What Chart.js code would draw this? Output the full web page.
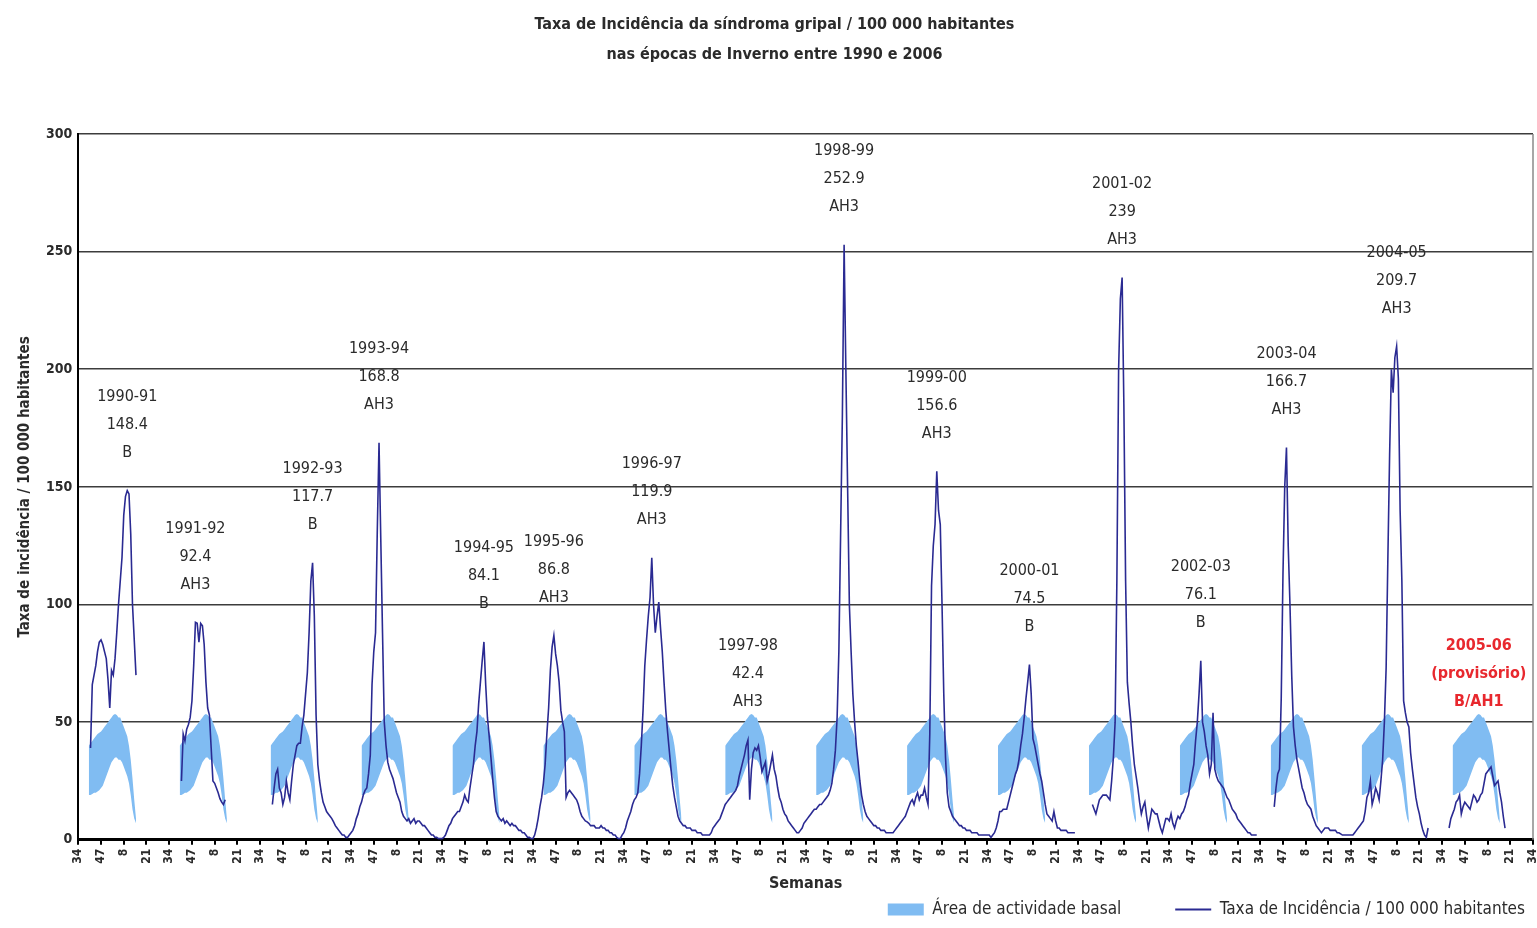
<!DOCTYPE html>
<html lang="pt">
<head>
<meta charset="UTF-8">
<title>Taxa de incidência da síndroma gripal 1990-2006</title>
<script src="https://cdn.jsdelivr.net/npm/chart.js"></script>
<style>
  body { margin: 0; background: #fff; }
</style>
</head>
<body>
<canvas id="grafico" width="1537" height="928"></canvas>
<script>
const FONTE = "'Liberation Sans Narrow', 'DejaVu Sans Condensed', 'Liberation Sans', Arial, sans-serif";
const corLinha = '#2a2a92';
const corBasal = '#80bcf2';

// épocas, valor do pico e vírus dominante
const epocas = ['1990-91', '1991-92', '1992-93', '1993-94', '1994-95', '1995-96', '1996-97', '1997-98',
                '1998-99', '1999-00', '2000-01', '2001-02', '2002-03', '2003-04', '2004-05', '2005-06'];
const picos = ['148.4', '92.4', '117.7', '168.8', '84.1', '86.8', '119.9', '42.4',
               '252.9', '156.6', '74.5', '239', '76.1', '166.7', '209.7', '(provisório)'];
const virus = ['B', 'AH3', 'B', 'AH3', 'B', 'AH3', 'AH3', 'AH3',
               'AH3', 'AH3', 'B', 'AH3', 'B', 'AH3', 'AH3', 'B/AH1'];
const epocaProvisoria = '2005-06';

// taxa semanal, da semana 34 à semana 33 do ano seguinte (52 semanas por época)
const semanaInicial = 34;
const s1990 = [null,null,null,null,null,null,null,
  39,66,70,74,80,84,85,83,80,77, 68,56,72,70,77,88,100,110,120,138, 146,148.4,147,130,100,85,70,
  null,null,null,null,null,null,null,null,null,null,null,null,null,null,null,null,null,null];
const s1991 = [null,null,null,null,null,null,null,
  25,45,42,47,49,52,59,74,92.4,92, 84,92,91,83,67,56,53,39,25,24, 22,20,17.5,16,15,17,
  null,null,null,null,null,null,null,null,null,null,null,null,null,null,null,null,null,null,null];
const s1992 = [null,null,null,null,null,null,null,
  15,22,28,30,22,20,15,18,25,20, 17,25,32,36,40,41,41,48,53,62, 71,88,110,117.7,95,53,32,25,20,16,
  14,12,11,10,9,7.6,6,5,4,3, 2,2,1,1,2];
const s1993 = [3,4,6,9,11,14,16,19,21,22, 28,36,66,80,88,131,168.8,128,88,50, 40,33,30,28,26,23,20,18,16,12,
  10,9,8,9,7,8,9,7,8,8, 7,6,6,5,4,3,2,2,1,1, 0.5,0.5];
const s1994 = [0.5,1,2,4,6,7,9,10,11,12, 12,14,16,19,17,16,22,27,32,40, 46,58,67,76,84.1,66,52,44,35,26,
  18,12,10,9,8,9,7,8,7,6, 7,6,6,5,4,4,3,3,2,1, 1,0.5];
const s1995 = [0.5,2,5,9,14,18,24,32,45,56, 72,82,86.8,79,74,67,55,50,46,18, 20,21,20,19,18,17,15,12,10,9,
  8,7.6,7,6,6,6,5,5,5,6, 5,5,4,4,3,3,2,2,1,0.5, 0.5,2];
const s1996 = [3,5,8,10,12,15,17,18,20,28, 40,55,74,85,95,103,119.9,100,88,95, 101,90,80,67,55,46,38,30,23,18,
  14,10,8,7,6,6,5,5,5,4, 4,4,3,3,3,2,2,2,2,2, 3,5];
const s1997 = [6,7,8,9,11,13,15,16,17,18, 19,20,21,23,27,30,33,36,40,42.4, 17,30,37,39,38,40,35,29,31,33,
  25,28,32,36,30,27,22,18,16,13, 11,10,8,7,6,5,4,3,3,4, 5,7];
const s1998 = [8,9,10,11,12,13,13,14,15,15, 16,17,18,19,21,24,30,38,52,80, 130,180,252.9,200,150,100,80,62,50,40,
  33,25,19,15,12,10,9,8,7,6, 6,5,5,4,4,4,3,3,3,3, 3,4];
const s1999 = [5,6,7,8,9,10,12,14,16,17, 15,18,20,17,19,19,22,18,15,45, 108,125,134,156.6,140,134,100,62,35,20,
  14,12,10,9,8,7,6,6,5,5, 4,4,4,3,3,3,3,2,2,2, 2,2];
const s2000 = [2,2,1,2,3,5,8,12,12,13, 13,13,16,19,22,25,28,30,34,40, 45,52,60,67,74.5,62,43,40,36,32,
  28,25,20,15,11,10,9,8,12,8, 5,5,4,4,4,4,3,3,3,3, 3,null];
const s2001 = [null,null,null,null,null,null,null,null,
  15,13,11,14,17,18,19,19,19,18, 17,25,35,50,110,200,230,239,185,110, 67,58,50,40,32,27,22,16,11,14,
  16,10,5,9,13,12,11,11,8,5, 3,6,9,9];
const s2002 = [8,11,7,5,8,10,9,11,12,14, 17,19,24,28,32,42,50,62,76.1,50, 46,40,36,28,32,54,30,27,25,24,
  23,22,20,18,17,15,13,12,11,9, 8,7,6,5,4,3,3,2,2,2, 2,null];
const s2003 = [null,null,null,null,null,null,null,null,
  14,22,28,30,60,113,150,166.7,125,100, 70,48,40,34,30,26,22,20,17,15, 14,13,10,8,6,5,4,3,4,5,
  5,5,4,4,4,4,3,3,2.5,2, 2,2,2,2];
const s2004 = [2,2,3,4,5,6,7,8,12,18, 20,25,15,18,22,20,17,25,34,50, 73,120,164,200,190,205,209.7,196,140,110,
  59,54,50,48,37,30,24,18,14,11, 7,4,2,1,5, null,null,null,null,null,null,null];
const s2005 = [null,null,null,null,
  5,9,11,13,16,17,19,11,14,16, 15,14,13,16,19,18,16,17,19,20, 24,28,29,30,31,27,23,24,25,20, 16,10,5,
  null,null,null,null,null,null,null,null,null,null,null,null,null,null,null];
const dadosEpocas = [s1990, s1991, s1992, s1993, s1994, s1995, s1996, s1997,
                     s1998, s1999, s2000, s2001, s2002, s2003, s2004, s2005];

// área de actividade basal: limites superior e inferior, semana 40 até semana 15
const basalInicio = 6;
const basalSup = [40,41,42,43,44,45,45.5,46,47,48, 49,50,51,52,53,53.5,53,52,52,50, 48,46,44,40,34,26,17,9];
const basalInf = [19,19,19.5,20,20,20.5,21,22,23,25, 27,29,31,33,34,35,35,34,34,33, 31,29,27,24,19,13,9,7];

const semanasPorEpoca = 52;

const pontosLinha = [];
dadosEpocas.forEach((serie, e) => {
  serie.forEach((v, i) => pontosLinha.push({ x: e * semanasPorEpoca + i, y: v }));
});

const datasets = [{
  label: 'Taxa de Incidência / 100 000 habitantes',
  data: pontosLinha,
  borderColor: corLinha,
  borderWidth: 1.6,
  pointRadius: 0,
  tension: 0,
  spanGaps: false,
  fill: false,
  order: 0
}];
epocas.forEach((ep, e) => {
  const base = e * semanasPorEpoca + basalInicio;
  datasets.push({
    label: 'Área de actividade basal',
    data: basalSup.map((v, k) => ({ x: base + k, y: v })),
    borderWidth: 0,
    pointRadius: 0,
    backgroundColor: corBasal,
    fill: '+1',
    order: 1
  });
  datasets.push({
    label: 'basal_inf',
    data: basalInf.map((v, k) => ({ x: base + k, y: v })),
    borderWidth: 0,
    pointRadius: 0,
    fill: false,
    order: 1
  });
});

// rótulos por cima dos picos
const rotulosPicos = {
  id: 'rotulosPicos',
  afterDatasetsDraw(chart) {
    const { ctx, scales: { x, y } } = chart;
    ctx.save();
    ctx.textAlign = 'center';
    ctx.textBaseline = 'middle';
    epocas.forEach((ep, e) => {
      const serie = dadosEpocas[e];
      let px, py;
      if (ep === epocaProvisoria) {
        const topo = Math.max(...basalSup);
        const k = basalSup.indexOf(topo);
        px = x.getPixelForValue(e * semanasPorEpoca + basalInicio + k);
        py = y.getPixelForValue(topo) - 12;
        ctx.fillStyle = '#e8282e';
        ctx.font = 'bold 16px ' + FONTE;
      } else {
        let max = -1, im = 0;
        serie.forEach((v, i) => { if (v !== null && v > max) { max = v; im = i; } });
        px = x.getPixelForValue(e * semanasPorEpoca + im);
        py = y.getPixelForValue(max) - 38;
        ctx.fillStyle = '#2b2b2b';
        ctx.font = '16px ' + FONTE;
      }
      [ep, picos[e], virus[e]].forEach((t, l) => ctx.fillText(t, px, py - 28 * (2 - l)));
    });
    ctx.restore();
  }
};

// moldura direita da área do gráfico
const moldura = {
  id: 'moldura',
  beforeDatasetsDraw(chart) {
    const { ctx, chartArea: a } = chart;
    ctx.save();
    ctx.strokeStyle = '#8a8a8a';
    ctx.lineWidth = 1.5;
    ctx.beginPath();
    ctx.moveTo(a.right, a.top);
    ctx.lineTo(a.right, a.bottom);
    ctx.stroke();
    ctx.restore();
  }
};

new Chart(document.getElementById('grafico'), {
  type: 'line',
  data: { datasets },
  plugins: [moldura, rotulosPicos],
  options: {
    responsive: false,
    animation: false,
    layout: { padding: { left: 16, right: 4, top: 0, bottom: 0 } },
    plugins: {
      title: {
        display: true,
        text: ['Taxa de Incidência da síndroma gripal / 100 000 habitantes',
               'nas épocas de Inverno entre 1990 e 2006'],
        color: '#2b2b2b',
        font: { family: FONTE, size: 16, weight: 'bold', lineHeight: 1.875 },
        padding: { top: 10, bottom: 64 }
      },
      legend: {
        position: 'bottom',
        align: 'end',
        labels: {
          font: { family: FONTE, size: 17 },
          color: '#2b2b2b',
          usePointStyle: true,
          pointStyleWidth: 36,
          boxHeight: 12,
          padding: 8,
          generateLabels: () => [
            { text: 'Área de actividade basal\u2003\u2003\u2003', fillStyle: corBasal, strokeStyle: corBasal, lineWidth: 0,
              pointStyle: 'rect', fontColor: '#2b2b2b', datasetIndex: 1 },
            { text: 'Taxa de Incidência / 100 000 habitantes', fillStyle: corLinha, strokeStyle: corLinha, lineWidth: 2,
              pointStyle: 'line', fontColor: '#2b2b2b', datasetIndex: 0 }
          ]
        }
      },
      tooltip: { enabled: false }
    },
    scales: {
      x: {
        type: 'linear',
        min: 0,
        max: semanasPorEpoca * epocas.length,
        afterFit: s => { s.paddingRight = 0; },
        ticks: {
          stepSize: 13,
          autoSkip: false,
          minRotation: 90,
          maxRotation: 90,
          padding: 4,
          color: '#2b2b2b',
          font: { family: FONTE, size: 12, weight: 'bold' },
          callback: v => ((semanaInicial - 1 + v) % semanasPorEpoca) + 1
        },
        grid: { drawOnChartArea: false, color: '#000', lineWidth: 2, tickLength: 5 },
        border: { color: '#000', width: 3 },
        title: {
          display: true, text: 'Semanas', color: '#2b2b2b',
          font: { family: FONTE, size: 16, weight: 'bold' }, padding: { top: 6, bottom: 0 }
        }
      },
      y: {
        min: 0,
        max: 300,
        ticks: { stepSize: 50, color: '#2b2b2b', font: { family: FONTE, size: 14, weight: 'bold' }, padding: 6 },
        grid: { color: '#3c3c3c', lineWidth: 1.6, tickLength: 0 },
        border: { color: '#000', width: 2 },
        title: {
          display: true, text: 'Taxa de incidência / 100 000 habitantes', color: '#2b2b2b',
          font: { family: FONTE, size: 15, weight: 'bold' }, padding: { top: 0, bottom: 6 }
        }
      }
    }
  }
});
</script>
</body>
</html>
